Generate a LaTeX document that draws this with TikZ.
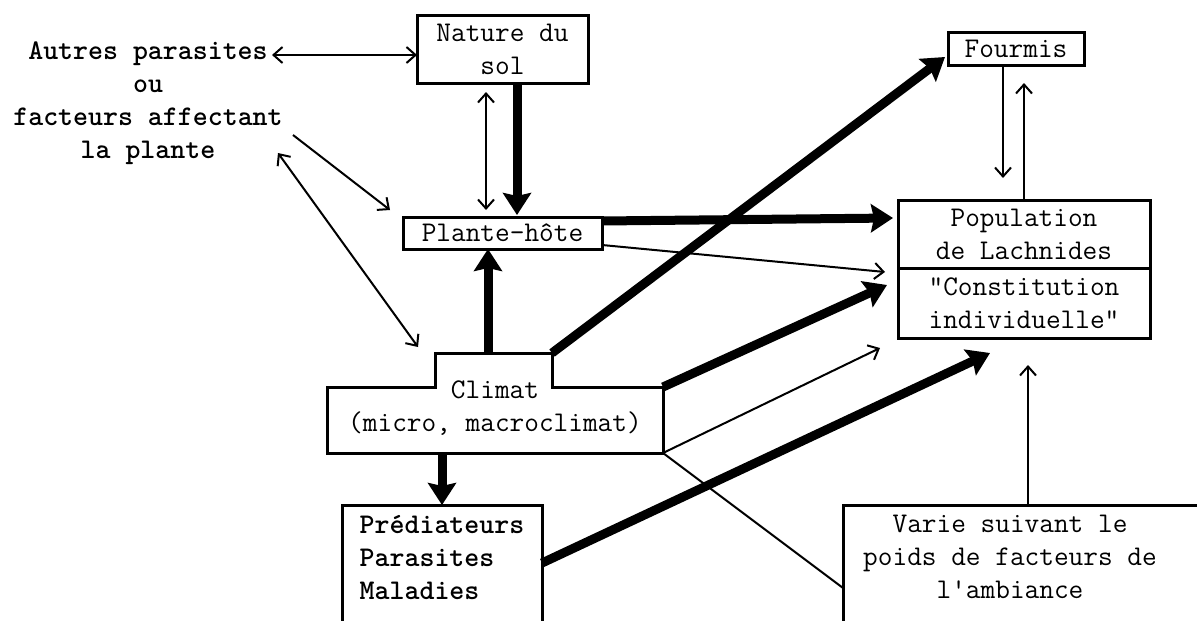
\documentclass[tikz,border=0pt]{standalone}
\usepackage{fontspec}
\usetikzlibrary{arrows.meta,positioning}

\begin{document}
\begin{tikzpicture}[x=1pt, y=-1pt, align=center, font=\ttfamily\fontsize{28.5}{33}\selectfont]
    \tikzset{
        n/.style        =   { rectangle
                            , draw=black
                            , line width=3pt
                            , inner sep=0pt
                            , outer sep=0pt
        }
        , fat/.style    =   { line width=9pt
                            , -{Stealth[length=22pt, width=28pt, inset=3pt]}
        }
        , fine/.style   =   { line width=2pt
                            , -{Straight Barb[length=9pt, width=16pt]}
        }
        , fine2/.style  =   { fine
                            , {Straight Barb[length=9pt, width=16pt]}-{Straight Barb[length=9pt, width=16pt]}
        }
        , bold/.style   =   { font=\ttfamily\fontsize{28.5}{33}\selectfont\bfseries
        }
    }
    \useasboundingbox (0,0) rectangle (1197,621);
    \clip (0,0) rectangle (1197,621);

    \node(0)[bold] at (148,103) {Autres parasites\\ou\\facteurs affectant\\la plante};
    \node(1)[n, minimum width=171, minimum height=68] at (502.5,49) {Nature du\\sol};
    \node(2)[n, minimum width=199, minimum height=32] at (502.5,233) {Plante-hôte};
    \node(3)[n, minimum width=136, minimum height=33] at (1016,48.5) {Fourmis};
    \node(4)[n, minimum width=252, minimum height=68] at (1024,234) {Population\\de Lachnides};
    \node(5)[n, minimum width=252, minimum height=70, below=0pt of 4] {\textquotedbl Constitution\\individuelle\textquotedbl};
    \node(6) at (495,408) {Climat\\(micro, macroclimat)};
    \node(7)[n, bold, anchor=north west, align=left, inner xsep=13pt, inner ysep=10pt, minimum width=200] at (342,505) {Prédiateurs\\Parasites\\Maladies\\\strut};
    \node(8) at (1010,557) {Varie suivant le\\poids de facteurs de\\l\textquotesingle ambiance};

    % climat outline and open frame of the last box
    \coordinate (t1) at (435,353);
    \coordinate (t2) at (552,353);
    \coordinate (c1) at (663,387);
    \coordinate (c2) at (663,453);
    \draw[line width=3pt] (327,387) -| (t1) -- (t2) |- (c1) -- (c2) -- (327,453) -- cycle;
    \draw[line width=3pt] (843,640) |- (1210,505);

    \coordinate (p1) at (272,55);
    \coordinate (p2) at (293,135);
    \coordinate (p3) at (278,153);
    \coordinate (k1) at (488,353);
    \coordinate (k2) at (1028,505);
    \coordinate (k3) at (843,588);
    \coordinate (k4) at (442,453);

    \draw[fine2] (p1) -- (p1 -| 1.west);
    \draw[fine]  (p2) -- ([xshift=-13pt, yshift=7pt]2.north west);
    \draw[fine2] (p3) -- ([xshift=-17pt, yshift=6pt]t1);
    \draw[fine2, shorten <=9pt, shorten >=7pt] ([xshift=-16.5pt]1.south) -- ([xshift=-16.5pt]2.north);
    \draw[fat, shorten >=2pt] ([xshift=14.5pt]1.south) -- ([xshift=14.5pt]2.north);
    \draw[fat]   (k1) -- (k1 |- 2.south);
    \draw[fat]   ([yshift=-4pt]2.north east) -- ([xshift=-5pt, yshift=16pt]4.west);
    \draw[fine]  ([yshift=4pt]2.south east) -- ([xshift=-13pt, yshift=-4pt]4.south west);
    \draw[fat]   (t2) -- ([xshift=-3pt, yshift=8pt]3.south west);
    \draw[fat]   (c1) -- ([xshift=-11pt, yshift=-17pt]5.north west);
    \draw[fine]  (c2) -- ([xshift=-18pt, yshift=-10pt]5.south west);
    \draw[fat]   ([yshift=-58pt]7.north east) -- ([xshift=-34pt, yshift=-15pt]5.south);
    \draw[line width=2pt] (c2) -- (k3);
    \draw[fine]  (k2) -- ([xshift=4pt, yshift=-27pt]5.south);
    \draw[fat]   (k4) -- (k4 |- 7.north);
    \draw[fine, shorten >=22pt] ([xshift=-13pt]3.south) -- ([xshift=-13pt]3.south |- 4.north);
    \draw[fine, shorten >=18pt] (4.north) -- (4.north |- 3.south);
\end{tikzpicture}
\end{document}
